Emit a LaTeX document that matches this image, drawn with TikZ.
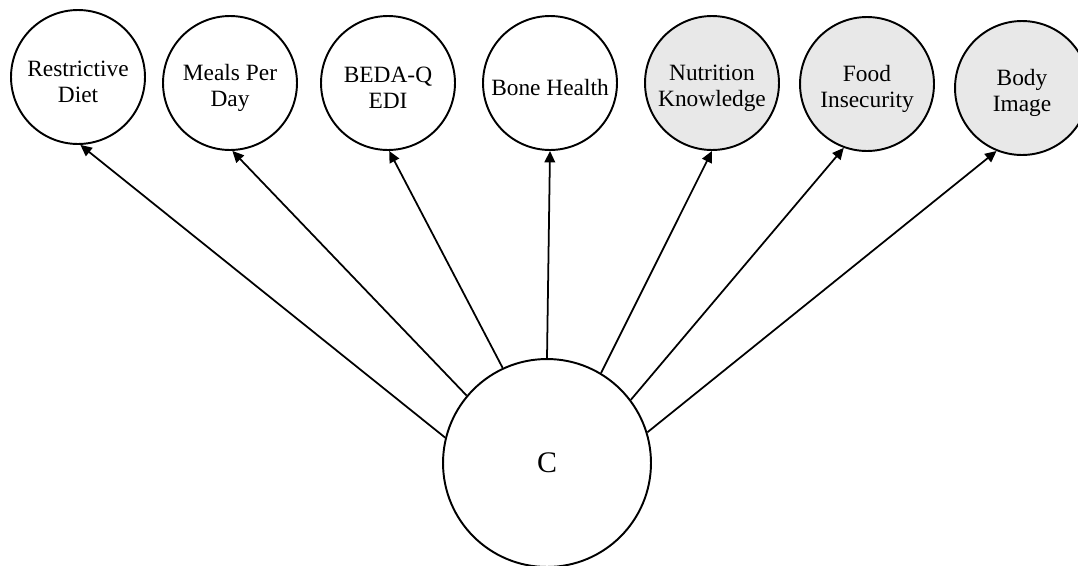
\documentclass[tikz,border=0pt]{standalone}
\usepackage{fontspec}
\setmainfont{Liberation Serif}
\usetikzlibrary{arrows.meta}
\begin{document}
\begin{tikzpicture}[x=0.02cm,y=-0.02cm,
  indicator/.style={circle,draw=black,line width=1.1pt,minimum size=2.68cm,inner sep=0pt},
  shaded/.style={indicator,fill=gray!18},
  txt/.style={font=\fontsize{13.3}{15}\selectfont,align=center,yshift=-0.1cm},
  latent/.style={circle,draw=black,line width=1.1pt,minimum size=4.16cm,inner sep=0pt,font=\fontsize{17}{19}\selectfont},
  link/.style={line width=1pt,-{Triangle[length=6.5pt,width=6pt]}}]
\useasboundingbox (0,0) rectangle (1078,565);
\node[indicator,label={[txt]center:Restrictive\\Diet}] (rd) at (78,77) {};
\node[indicator,label={[txt]center:Meals Per\\Day}] (mp) at (230,83) {};
\node[indicator,label={[txt]center:BEDA-Q\\EDI}] (bq) at (388,83) {};
\node[indicator,label={[txt]center:Bone Health}] (bh) at (550,83) {};
\node[shaded,label={[txt]center:Nutrition\\Knowledge}] (nk) at (712,83) {};
\node[shaded,label={[txt]center:Food\\Insecurity}] (fi) at (867,84) {};
\node[shaded,label={[txt]center:Body\\Image}] (bi) at (1022,88) {};
\node[latent] (c) at (547,463) {C};
\draw[link] (c.166) -- (rd.-88);
\draw[link] (c.140) -- (mp.-88);
\draw[link] (c.115) -- (bq.-89);
\draw[link] (c.90) -- (bh.-90);
\draw[link] (c.59) -- (nk.-90);
\draw[link] (c.37) -- (fi.-110);
\draw[link] (c.17) -- (bi.-112);
\end{tikzpicture}
\end{document}
